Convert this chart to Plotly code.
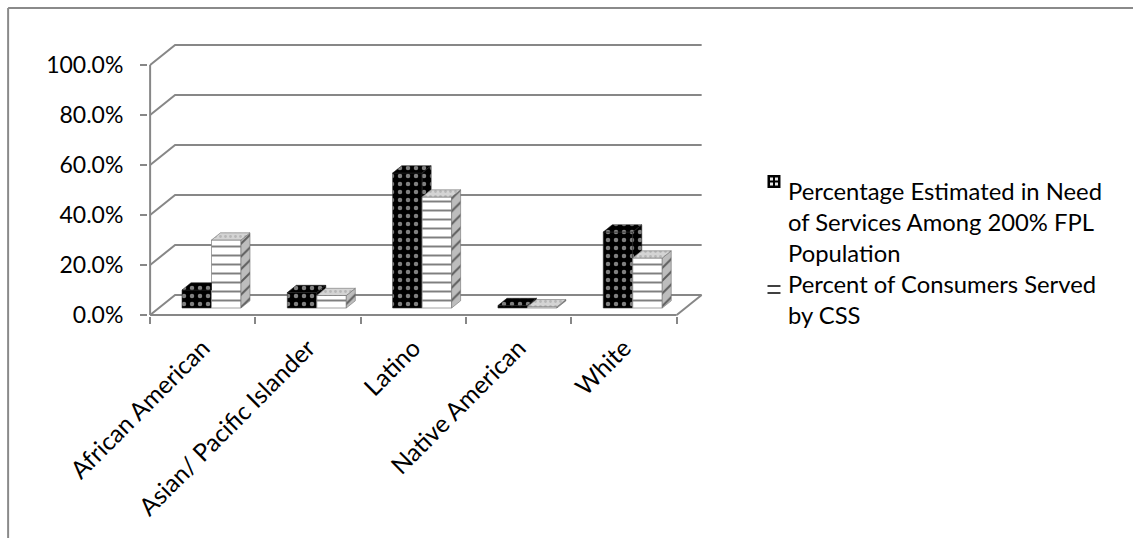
import plotly.graph_objects as go

# ---- data -------------------------------------------------------------
categories = ["African American", "Asian/ Pacific Islander", "Latino",
              "Native American", "White"]
need_pct = [7.2, 6.2, 54.0, 1.0, 30.4]      # Percentage Estimated in Need ...
served_pct = [27.2, 5.0, 44.4, 0.5, 20.0]   # Percent of Consumers Served by CSS
y_ticks = [0, 20, 40, 60, 80, 100]
need_label = "Percentage Estimated in Need<br>of Services Among 200% FPL<br>Population"
served_label = "Percent of Consumers Served<br>by CSS"

# ---- geometry ---------------------------------------------------------
W, H = 1133, 538
PX_CAT = 105.4          # pixels per category slot
PX_PCT = 2.5            # pixels per percentage point
X0, X1 = -0.52, 4.75
Y0, Y1 = -0.4, 108.4
PLOT_LEFT, PLOT_TOP = 148, 44
PW = (X1 - X0) * PX_CAT
PH = (Y1 - Y0) * PX_PCT

# oblique 3-D projection: offset of the back wall relative to the front plane
WALL_DX = 25 / PX_CAT
WALL_DY = 20 / PX_PCT
BAR_FRONT = 0.35        # depth fraction where the bar fronts sit
BAR_DEPTH = 0.36        # depth fraction occupied by each bar
BAR_W = 0.28

FX, FY = BAR_FRONT * WALL_DX, BAR_FRONT * WALL_DY
BX, BY = BAR_DEPTH * WALL_DX, BAR_DEPTH * WALL_DY

GRID = "#878787"
FONT = "Lato"
FS = 23


def px_x(px):
    return (px - PLOT_LEFT) / PW


def px_y(py):
    return (PLOT_TOP + PH - py) / PH


fig = go.Figure()

# front faces of the columns
fig.add_trace(go.Bar(
    x=[i + FX - BAR_W / 2 for i in range(len(categories))],
    y=need_pct, base=FY, width=BAR_W,
    marker=dict(color="black", line=dict(width=0.6, color="#303030"),
                pattern=dict(shape=".", bgcolor="black", fgcolor="white",
                             size=8, solidity=0.25)),
    hoverinfo="skip", showlegend=False))
fig.add_trace(go.Bar(
    x=[i + FX + BAR_W / 2 for i in range(len(categories))],
    y=served_pct, base=FY, width=BAR_W,
    marker=dict(color="white", line=dict(width=0.8, color="#8a8a8a"),
                pattern=dict(shape="-", bgcolor="white", fgcolor="black",
                             size=9, solidity=0.22)),
    hoverinfo="skip", showlegend=False))


def face(xs, ys, bg, fg=None, shape="", size=8, solidity=0.2, edge="#505050"):
    tr = go.Scatter(x=xs + [xs[0]], y=ys + [ys[0]], mode="lines",
                    fill="toself", fillcolor=bg,
                    line=dict(width=0.6, color=edge),
                    hoverinfo="skip", showlegend=False)
    if shape:
        tr.fillpattern = dict(shape=shape, bgcolor=bg, fgcolor=fg or bg,
                              size=size, solidity=solidity)
    fig.add_trace(tr)


# top / side faces, built from the same values
for i, (nv, sv) in enumerate(zip(need_pct, served_pct)):
    xl = i + FX - BAR_W          # left edge of dark column
    xm = i + FX                  # shared edge
    xr = i + FX + BAR_W          # right edge of striped column
    base = FY
    td, ts = FY + nv, FY + sv

    # dark column: top face, clipped where the striped column hides it
    xs, ys = [xl, xm], [td, td]
    if ts > td:
        if ts >= td + BY:
            xs += [xm]
            ys += [td + BY]
        else:
            xs += [xm, xm + (ts - td) / BY * BX, xm + BX]
            ys += [ts, ts, td + BY]
    else:
        xs += [xm + BX]
        ys += [td + BY]
    xs += [xl + BX]
    ys += [td + BY]
    face(xs, ys, "black", "white", ".", 8, 0.25, "#202020")

    # dark column: side face above the striped column
    if td > ts:
        lo = max(base, ts)
        face([xm, xm, xm + BX, xm + BX], [lo, td, td + BY, lo + BY],
             "black", "white", ".", 8, 0.25, "#202020")

    # striped column: side and top
    face([xr, xr, xr + BX, xr + BX], [base, ts, ts + BY, base + BY],
         "#bdbdbd", "black", "/", 9, 0.22, "#707070")
    face([xm, xr, xr + BX, xm + BX], [ts, ts, ts + BY, ts + BY],
         "#d4d4d4", "#9a9a9a", ".", 5, 0.25, "#707070")

# walls: gridlines on the back wall joined to the front value axis
shapes = []
for v in y_ticks:
    shapes.append(dict(
        type="path", xref="x", yref="y",
        path=(f"M{-0.5},{v} L{-0.5 + WALL_DX},{v + WALL_DY} "
              f"L{len(categories) - 0.5 + WALL_DX},{v + WALL_DY}"),
        line=dict(color=GRID, width=2), layer="below"))
# floor front edge, right edge and the front value axis
shapes.append(dict(type="line", xref="x", yref="y", x0=-0.5, y0=0,
                   x1=len(categories) - 0.5, y1=0,
                   line=dict(color=GRID, width=2), layer="below"))
shapes.append(dict(type="line", xref="x", yref="y",
                   x0=len(categories) - 0.5, y0=0,
                   x1=len(categories) - 0.5 + WALL_DX, y1=WALL_DY,
                   line=dict(color=GRID, width=2), layer="below"))
shapes.append(dict(type="line", xref="x", yref="y", x0=-0.5, y0=0,
                   x1=-0.5, y1=y_ticks[-1],
                   line=dict(color=GRID, width=2), layer="below"))

# chart border
shapes.append(dict(type="line", xref="paper", yref="paper",
                   x0=px_x(8), y0=px_y(8), x1=px_x(1140), y1=px_y(8),
                   line=dict(color="#8a8a8a", width=2)))
shapes.append(dict(type="line", xref="paper", yref="paper",
                   x0=px_x(8), y0=px_y(8), x1=px_x(8), y1=px_y(545),
                   line=dict(color="#8a8a8a", width=2)))

# legend keys
shapes.append(dict(type="rect", xref="paper", yref="paper",
                   x0=px_x(768), x1=px_x(781), y0=px_y(175), y1=px_y(188),
                   fillcolor="black", line=dict(width=0)))
for cx in (770.5, 775.5):
    for cy in (177.5, 182.5):
        shapes.append(dict(type="rect", xref="paper", yref="paper",
                           x0=px_x(cx), x1=px_x(cx + 3), y0=px_y(cy),
                           y1=px_y(cy + 3), fillcolor="#e8e8e8",
                           line=dict(width=0)))
for ly in (286, 293):
    shapes.append(dict(type="line", xref="paper", yref="paper",
                       x0=px_x(768), x1=px_x(781), y0=px_y(ly), y1=px_y(ly),
                       line=dict(color="black", width=1.5)))

LEG_FS = 23.8
annotations = [
    dict(xref="paper", yref="paper", x=px_x(787), y=px_y(221.5),
         xanchor="left", yanchor="middle", align="left", showarrow=False,
         text=need_label, font=dict(family=FONT, size=LEG_FS, color="black")),
    dict(xref="paper", yref="paper", x=px_x(787), y=px_y(299),
         xanchor="left", yanchor="middle", align="left", showarrow=False,
         text=served_label, font=dict(family=FONT, size=LEG_FS, color="black")),
]

fig.update_layout(
    width=W, height=H,
    margin=dict(l=PLOT_LEFT, r=W - PLOT_LEFT - PW, t=PLOT_TOP,
                b=H - PLOT_TOP - PH, pad=0),
    paper_bgcolor="white", plot_bgcolor="white",
    barmode="overlay", showlegend=False,
    shapes=shapes, annotations=annotations,
    font=dict(family=FONT, size=FS, color="black"),
    xaxis=dict(range=[X0, X1], showgrid=False, zeroline=False,
               showline=False, tickmode="array",
               tickvals=list(range(len(categories))), ticktext=categories,
               tickangle=-45, ticks="", automargin=False,
               tickfont=dict(family=FONT, size=24.5, color="black"),
               ticklabelstandoff=12,
               minor=dict(tickmode="array",
                          tickvals=[i - 0.5 for i in range(len(categories) + 1)],
                          ticks="outside", ticklen=7, tickwidth=2,
                          tickcolor=GRID, showgrid=False),
               fixedrange=True),
    yaxis=dict(range=[Y0, Y1], showgrid=False, zeroline=False,
               showline=False, tickmode="array", tickvals=y_ticks,
               ticktext=[f"{v:.1f}%" for v in y_ticks],
               ticks="outside", ticklen=7, tickwidth=2, tickcolor=GRID,
               ticklabelstandoff=12, automargin=False, fixedrange=True),
)

fig.write_html("out.html", config={"displayModeBar": False})
